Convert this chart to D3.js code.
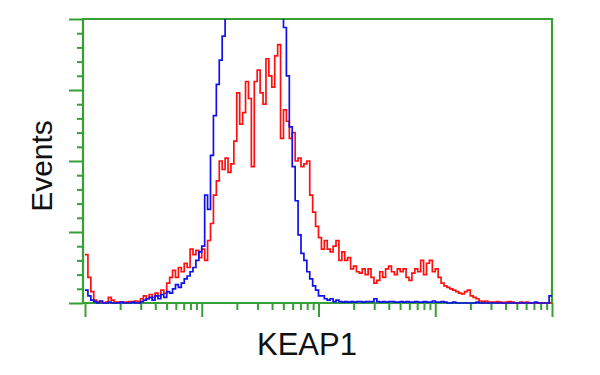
<!DOCTYPE html>
<html>
<head>
<meta charset="utf-8">
<script src="https://cdn.jsdelivr.net/npm/d3@7"></script>
<style>
  html, body { margin: 0; padding: 0; background: #ffffff; }
  svg { display: block; }
</style>
</head>
<body>
<svg id="chart" width="600" height="375"></svg>
<script>
// ---- data ----
const xLabel = "KEAP1";
const yLabel = "Events";
const binCount = 160;              // channels spanning 4 log decades
const xDecades = [1, 10, 100, 1000, 10000];
const yMajorTicks = [0, 25, 50, 75, 100];
const yMinorTicks = [5, 10, 15, 20, 30, 35, 40, 45, 55, 60, 65, 70, 80, 85, 90, 95];

// control (blue) histogram counts per channel
const controlCounts = [
  4.5, 2.5, 1, 0.5, 0, 0.7, 0, 0, 0.3, 0,
  0, 0, 0.3, 0, 0, 0, 0.3, 0, 0, 0.5,
  1, 1.5, 2, 1, 2.5, 1.5, 3, 2, 4, 3.5,
  5, 6.5, 5.5, 7, 8.5, 9.5, 11, 12.5, 15, 18,
  20, 38, 33, 52, 66, 77, 85.5, 94, 105, 112,
  120, 128, 135, 140, 145, 148, 150, 151, 150, 148,
  145, 140, 135, 128, 122, 115, 110, 104, 97, 80,
  62, 48, 36, 24, 17.5, 15, 11, 8.5, 6, 4.5,
  2.5, 2.5, 1.5, 1, 1.5, 0.5, 1, 0.5, 0.3, 0.5,
  0.3, 0.5, 0.3, 0.5, 0.5, 0.3, 0.5, 0.5, 0.5, 1.5,
  0.5, 0.3, 0.5, 0.3, 0.5, 0.5, 0.3, 0.3, 0.5, 0.3,
  0.5, 0.3, 0.3, 0.5, 0.3, 0.3, 0.5, 0.3, 0.3, 0.7,
  0.3, 0.3, 0.5, 0.3, 0, 0, 0.3, 0, 0, 0,
  0, 0, 0, 0, 0.3, 0, 0, 0, 0, 0,
  0, 0, 0, 0, 0, 0, 0, 0, 0, 0,
  0, 0, 0, 0, 0.3, 0, 0, 0, 0, 2.5
];

// KEAP1-stained (red) histogram counts per channel
const keap1Counts = [
  17, 9, 4, 1, 0.3, 0.5, 0, 0.3, 2, 1,
  0.3, 0.3, 0.3, 0.3, 0.3, 0.5, 0.5, 0.7, 0.5, 1.5,
  2.5, 1.5, 3, 2, 3.5, 2.5, 4.5, 3.5, 7, 9,
  11.5, 9, 12.5, 11, 14, 12.5, 19, 17, 18.5, 16,
  19, 15, 22, 28, 38, 43, 50, 47, 51, 46,
  49, 57, 74, 63, 67, 78, 72, 48, 78, 82,
  74, 70, 86, 80, 76, 87, 91, 58, 68, 64,
  58, 60, 50, 51, 48, 49, 50, 38, 32, 27,
  23, 19, 22, 19, 18, 20, 22, 15, 18, 15,
  16, 12, 13, 11, 10.5, 12, 10, 12, 9, 7,
  8, 11, 9, 12, 13, 11, 10, 12, 11, 12,
  9, 8, 10.5, 12, 11, 15, 10, 14, 15, 11,
  12, 9, 7, 6, 5.5, 5, 4.5, 4, 3.5, 3.2,
  4, 4.5, 2.5, 2, 1.5, 0.7, 0.5, 0.7, 0.3, 0.3,
  0.3, 0.5, 0.3, 0, 0.3, 0.5, 0.3, 0, 0, 0.3,
  0, 0.3, 0, 0, 0, 0, 0, 0, 0, 0
];

// ---- layout ----
const plot = { left: 83, right: 552, top: 19, bottom: 303 };
const axisColor = "#36a036";

const svg = d3.select("#chart");

const x = d3.scaleLog().domain([1, 10000]).range([85, plot.right]);
const y = d3.scaleLinear().domain([0, 100]).range([plot.bottom, plot.top]);

const edges = d3.range(binCount + 1).map(i => Math.pow(10, 4 * i / binCount));

function stepPoints(counts) {
  const pts = counts.map((c, i) => [edges[i], c]);
  pts.push([edges[binCount], counts[binCount - 1]]);
  return pts;
}

svg.append("defs").append("clipPath").attr("id", "clip")
  .append("rect")
  .attr("x", plot.left).attr("y", plot.top)
  .attr("width", plot.right - plot.left).attr("height", plot.bottom - plot.top + 1);

const line = d3.line()
  .x(d => x(d[0]))
  .y(d => y(d[1]))
  .curve(d3.curveStepAfter);

// ---- axes ----
const xMinor = [];
for (let d = 0; d < 4; d++) {
  for (let k = 2; k <= 9; k++) xMinor.push(k * Math.pow(10, d));
}

function styleAxis(g) {
  g.select(".domain").remove();
  g.selectAll(".tick line").attr("stroke", axisColor).attr("stroke-width", 2);
  g.selectAll(".tick text").remove();
}

svg.append("g")
  .attr("transform", `translate(0,${plot.bottom})`)
  .call(d3.axisBottom(x).tickValues(xDecades).tickSize(14).tickFormat(""))
  .call(styleAxis);
svg.append("g")
  .attr("transform", `translate(0,${plot.bottom})`)
  .call(d3.axisBottom(x).tickValues(xMinor).tickSize(7).tickFormat(""))
  .call(styleAxis);

svg.append("g")
  .attr("transform", `translate(${plot.left},0)`)
  .call(d3.axisLeft(y).tickValues(yMajorTicks).tickSize(14).tickFormat(""))
  .call(styleAxis);
svg.append("g")
  .attr("transform", `translate(${plot.left},0)`)
  .call(d3.axisLeft(y).tickValues(yMinorTicks).tickSize(6).tickFormat(""))
  .call(styleAxis);

// frame
svg.append("path")
  .attr("d", `M${plot.left},${plot.bottom}V${plot.top}H${plot.right}V${plot.bottom}H${plot.left}`)
  .attr("fill", "none")
  .attr("stroke", axisColor)
  .attr("stroke-width", 2.2);

// ---- histograms ----
const g = svg.append("g").attr("clip-path", "url(#clip)");

g.append("path")
  .datum(stepPoints(keap1Counts))
  .attr("d", line)
  .attr("fill", "none")
  .attr("stroke", "#ff1010")
  .attr("stroke-width", 1.7);

g.append("path")
  .datum(stepPoints(controlCounts))
  .attr("d", line)
  .attr("fill", "none")
  .attr("stroke", "#1010ee")
  .attr("stroke-width", 1.7);

// ---- labels ----
svg.append("text")
  .attr("x", 307).attr("y", 355)
  .attr("text-anchor", "middle")
  .attr("font-family", "Liberation Sans, Arial, sans-serif")
  .attr("font-size", 31)
  .attr("fill", "#111")
  .text(xLabel);

svg.append("text")
  .attr("transform", "translate(52,166) rotate(-90)")
  .attr("text-anchor", "middle")
  .attr("font-family", "Liberation Sans, Arial, sans-serif")
  .attr("font-size", 30)
  .attr("fill", "#111")
  .text(yLabel);
</script>
</body>
</html>
